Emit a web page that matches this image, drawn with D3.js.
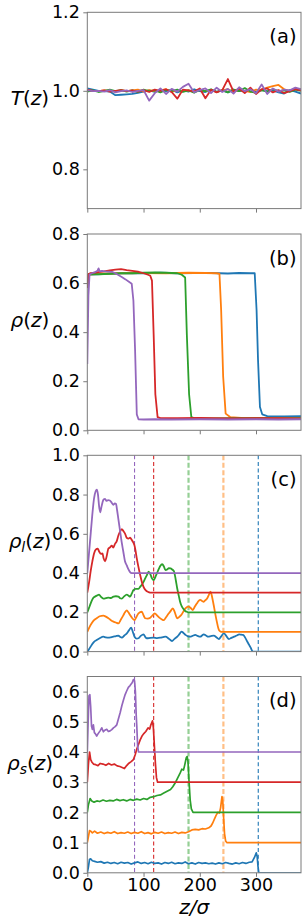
<!DOCTYPE html>
<html><head><meta charset="utf-8">
<script src="https://cdn.jsdelivr.net/npm/d3@7"></script>
<style>body{margin:0;background:#fff}svg{display:block}</style>
</head><body>
<svg id="chart" width="307" height="922"></svg>
<script>
// ---------- data ----------
const colors = ["#1f77b4", "#ff7f0e", "#2ca02c", "#d62728", "#9467bd"]; // blue, orange, green, red, purple
const xTicks = [0, 100, 200, 300];
const interfaces = [304, 242, 180, 118, 84];
const panelLabels = ["(a)", "(b)", "(c)", "(d)"];
const yTicksA = [0.8, 1.0, 1.2];
const yTicksB = [0.0, 0.2, 0.4, 0.6, 0.8];
const yTicksC = [0.0, 0.2, 0.4, 0.6, 0.8, 1.0];
const yTicksD = [0.0, 0.1, 0.2, 0.3, 0.4, 0.5, 0.6];

// (a) temperature profiles
const zT = [0,10,20,30,40,50,60,70,80,90,100,110,120,130,140,150,160,170,180,190,200,210,220,230,240,250,260,270,280,290,300,310,320,330,340,350,360,370,380];
const tBlue   = [1.006,1.003,1.000,0.999,0.998,0.989,0.990,0.991,0.992,0.995,0.998,1.001,0.997,1.002,0.999,1.003,0.996,1.001,0.998,1.004,0.999,0.997,1.002,0.998,1.001,0.996,1.003,0.999,1.000,1.004,0.997,1.002,0.999,1.001,0.996,0.993,1.002,0.998,0.993];
const tOrange = [1.002,1.000,0.999,1.001,1.000,0.998,1.002,0.999,1.001,1.003,0.998,1.002,0.999,1.001,1.004,0.997,1.002,0.999,1.001,0.998,1.003,0.999,1.002,0.997,1.001,1.004,0.998,1.002,1.000,0.997,1.003,1.001,1.008,1.012,1.015,1.004,0.999,1.006,1.002];
const tGreen  = [0.998,1.001,0.997,1.000,1.003,0.999,1.002,0.998,1.001,0.997,1.003,0.999,1.001,0.996,1.002,0.999,1.003,0.997,1.001,0.995,1.002,0.999,1.004,0.997,1.001,0.996,1.003,0.999,1.007,0.998,0.995,1.002,0.998,1.004,0.999,1.001,0.997,1.003,1.000];
const tRed    = [1.003,1.000,0.999,1.001,0.998,1.000,1.002,0.999,1.001,0.998,1.002,0.997,1.003,1.000,1.004,0.997,0.980,1.003,1.001,0.998,1.006,0.981,1.003,0.996,1.002,1.030,0.998,1.006,0.994,1.008,0.992,1.004,1.006,0.996,1.002,0.994,0.999,1.004,1.001];
const tPurple = [1.002,0.999,1.000,0.998,1.002,0.996,0.999,1.001,0.997,1.000,1.002,0.975,0.994,1.006,0.992,1.005,0.998,1.010,1.018,0.996,1.002,1.006,0.994,1.008,0.997,1.005,0.993,1.009,0.999,1.004,0.994,1.016,0.992,1.006,0.998,1.003,1.001,1.008,1.004];

// (b) density profiles [z, rho]
const rhoBlue   = [[0,0.58],[2,0.635],[40,0.638],[70,0.641],[100,0.640],[130,0.642],[160,0.640],[190,0.641],[220,0.641],[250,0.639],[270,0.641],[290,0.640],[297.7,0.640],[301,0.49],[303.6,0.286],[307,0.095],[311,0.065],[320,0.058],[350,0.057],[380,0.058]];
const rhoOrange = [[0,0.58],[2,0.635],[20,0.638],[60,0.640],[100,0.641],[140,0.640],[180,0.642],[210,0.641],[230,0.640],[235,0.638],[238,0.49],[241.6,0.218],[246,0.068],[254,0.054],[280,0.050],[320,0.051],[380,0.050]];
const rhoGreen  = [[0,0.58],[2,0.635],[10,0.637],[20,0.636],[40,0.638],[60,0.640],[80,0.640],[100,0.642],[120,0.643],[140,0.642],[160,0.640],[168,0.634],[174,0.623],[177,0.39],[181,0.147],[185,0.054],[190,0.050],[220,0.049],[260,0.050],[300,0.050],[340,0.049],[380,0.050]];
const rhoRed    = [[0,0.58],[2,0.636],[5,0.640],[10,0.642],[20,0.645],[30,0.648],[40,0.652],[50,0.655],[60,0.657],[70,0.653],[80,0.650],[90,0.647],[100,0.640],[108,0.634],[112,0.630],[115,0.610],[118,0.390],[121,0.147],[125,0.054],[130,0.050],[160,0.050],[200,0.051],[250,0.049],[300,0.050],[340,0.050],[380,0.049]];
const rhoPurple = [[0,0.27],[2,0.55],[4,0.635],[8,0.640],[14,0.645],[18,0.650],[20,0.660],[22,0.648],[26,0.650],[32,0.648],[38,0.647],[44,0.646],[50,0.640],[56,0.632],[62,0.624],[68,0.615],[74,0.605],[79,0.597],[82,0.528],[85,0.324],[88,0.065],[91,0.045],[100,0.044],[120,0.045],[150,0.044],[200,0.045],[250,0.044],[300,0.045],[340,0.044],[380,0.045]];

// (c) rho_l profiles (offset by 0.1 each) [z, value]
const lBlue = [[0,0],[3,0.012],[7.8,0.034],[12,0.05],[16.7,0.059],[22,0.068],[28.6,0.076],[33,0.072],[37.6,0.071],[42,0.073],[46.5,0.076],[51,0.079],[55.4,0.081],[58,0.076],[61.4,0.071],[66,0.082],[70.3,0.093],[74,0.108],[78,0.122],[81,0.1],[84,0.076],[88,0.066],[91,0.068],[95,0.08],[100,0.088],[103,0.075],[106,0.068],[112,0.07],[118,0.071],[124,0.069],[130,0.071],[135,0.074],[139,0.076],[145,0.066],[150.6,0.054],[155,0.065],[160,0.076],[164,0.09],[167.5,0.102],[171,0.095],[174.5,0.085],[179,0.078],[183,0.076],[187,0.08],[192,0.085],[196,0.08],[201,0.076],[204,0.082],[207,0.088],[211,0.082],[215,0.076],[220,0.079],[225,0.081],[230,0.072],[234,0.064],[238,0.078],[243,0.093],[247,0.08],[252,0.064],[256,0.07],[261,0.076],[266,0.082],[270,0.088],[274,0.086],[277,0.085],[281,0.07],[284.6,0.05],[288,0.033],[290.5,0.02],[293,0.005],[294,0],[380,0]];
const lOrange = [[0,0.1],[3,0.12],[7.8,0.144],[12,0.16],[16.7,0.17],[22,0.18],[28.6,0.183],[33,0.178],[37.6,0.17],[42,0.16],[46.5,0.153],[51,0.148],[55.4,0.144],[60,0.165],[64.3,0.186],[67,0.2],[70.3,0.21],[73,0.2],[76,0.186],[80,0.17],[84,0.16],[87,0.175],[91,0.195],[97,0.203],[100,0.185],[103,0.17],[107,0.168],[112,0.173],[116,0.185],[120,0.195],[124,0.185],[128,0.173],[132,0.165],[136,0.16],[140,0.175],[145,0.195],[149,0.21],[152,0.22],[155,0.205],[158,0.18],[160,0.17],[164,0.178],[168,0.19],[171,0.205],[174.5,0.22],[180,0.229],[184,0.222],[187.5,0.212],[191,0.228],[195,0.246],[198,0.258],[201,0.263],[204,0.258],[207,0.254],[210,0.262],[213,0.27],[216,0.288],[219,0.305],[221,0.29],[223,0.263],[225.5,0.225],[228,0.186],[230.5,0.15],[233,0.119],[235,0.106],[237,0.102],[240,0.1],[380,0.1]];
const lGreen = [[0,0.2],[4,0.23],[8,0.26],[11,0.275],[13.7,0.28],[17,0.285],[20.9,0.29],[24,0.28],[28.6,0.27],[33,0.272],[37.6,0.275],[42,0.273],[46.5,0.28],[51,0.282],[55.4,0.28],[58.4,0.272],[61.4,0.27],[65,0.28],[70.3,0.29],[73,0.286],[76,0.28],[79,0.295],[82,0.313],[86,0.32],[91,0.32],[94,0.33],[97,0.34],[100,0.355],[103,0.373],[106,0.39],[109,0.407],[112,0.395],[115,0.373],[118,0.364],[121,0.38],[124,0.4],[127,0.42],[130,0.437],[133,0.445],[136,0.435],[139,0.415],[142,0.418],[145,0.425],[148,0.424],[151,0.418],[154,0.41],[157,0.37],[160,0.32],[163,0.28],[165,0.254],[168,0.23],[171,0.217],[174,0.207],[177,0.203],[180,0.2],[380,0.2]];
const lRed = [[0,0.3],[3,0.35],[6,0.41],[9,0.46],[12,0.5],[15,0.52],[18.5,0.525],[21,0.51],[24.5,0.498],[27,0.5],[29,0.475],[31.6,0.46],[34,0.48],[37.6,0.525],[40,0.53],[43.5,0.54],[46,0.53],[49.5,0.55],[52,0.56],[55.4,0.593],[58,0.61],[61.4,0.624],[64,0.615],[67.3,0.6],[70,0.58],[73.3,0.576],[76,0.58],[79.2,0.568],[82,0.555],[84,0.54],[86,0.51],[88,0.475],[91,0.43],[94,0.39],[97,0.355],[100,0.33],[104,0.312],[109,0.303],[114,0.3],[380,0.3]];
const lPurple = [[0,0.4],[3,0.5],[6,0.6],[9,0.7],[12,0.78],[15,0.818],[17,0.825],[19,0.8],[21,0.74],[23,0.71],[25,0.735],[27,0.76],[29,0.775],[31.6,0.778],[34,0.768],[37,0.772],[40,0.77],[43,0.76],[46,0.748],[49,0.755],[51,0.752],[53,0.72],[55,0.68],[58,0.62],[61,0.56],[64,0.51],[67,0.46],[70,0.44],[73,0.42],[76,0.405],[79,0.4],[380,0.4]];

// (d) rho_s profiles (offset by 0.1 each) [z, value]
const sBlue = [[0,0],[2,0.02],[4,0.045],[6,0.046],[9,0.040],[13,0.038],[18,0.035],[24,0.037],[30,0.032],[36,0.035],[42,0.031],[48,0.034],[54,0.030],[60,0.035],[66,0.032],[72,0.034],[78,0.029],[84,0.033],[90,0.036],[96,0.031],[102,0.034],[108,0.030],[114,0.035],[120,0.031],[126,0.033],[132,0.029],[138,0.034],[144,0.031],[150,0.035],[156,0.030],[162,0.033],[168,0.031],[174,0.036],[180,0.030],[186,0.033],[192,0.029],[198,0.034],[204,0.031],[210,0.033],[216,0.030],[222,0.032],[228,0.029],[234,0.033],[240,0.030],[246,0.034],[252,0.031],[258,0.029],[264,0.033],[270,0.030],[276,0.034],[282,0.031],[288,0.035],[293,0.036],[297,0.05],[300.5,0.066],[302,0.055],[303.6,0.02],[305,0],[380,0]];
const sOrange = [[0,0.1],[2,0.12],[4,0.14],[6,0.138],[9,0.132],[13,0.138],[18,0.131],[24,0.135],[30,0.130],[36,0.134],[42,0.131],[48,0.136],[54,0.130],[60,0.133],[66,0.131],[72,0.135],[78,0.130],[84,0.134],[90,0.131],[96,0.136],[102,0.130],[108,0.133],[114,0.129],[120,0.134],[126,0.131],[132,0.135],[138,0.130],[144,0.133],[150,0.131],[156,0.135],[162,0.130],[168,0.134],[174,0.132],[180,0.136],[186,0.142],[192,0.144],[198,0.142],[204,0.146],[210,0.145],[216,0.149],[220,0.155],[223,0.165],[226,0.178],[229,0.19],[232,0.2],[235,0.198],[237,0.215],[239.5,0.252],[241,0.235],[242.5,0.18],[244,0.13],[246,0.105],[248,0.1],[380,0.1]];
const sGreen = [[0,0.2],[2,0.225],[5,0.246],[8,0.238],[12,0.234],[17,0.238],[22,0.236],[28,0.241],[34,0.237],[40,0.240],[46,0.238],[52,0.243],[58,0.239],[64,0.242],[70,0.238],[76,0.243],[82,0.240],[88,0.244],[94,0.241],[100,0.246],[106,0.243],[112,0.250],[118,0.252],[124,0.256],[130,0.258],[136,0.264],[142,0.270],[148,0.276],[152,0.285],[157,0.30],[161,0.315],[165,0.33],[168,0.343],[171,0.340],[173,0.355],[176,0.381],[177.5,0.385],[179,0.37],[181,0.30],[183,0.24],[185,0.212],[188,0.2],[380,0.2]];
const sRed = [[0,0.3],[2,0.36],[4,0.4],[6,0.375],[8,0.367],[11,0.36],[15,0.358],[19,0.355],[23,0.362],[28,0.36],[33,0.356],[38,0.362],[43,0.357],[48,0.360],[53,0.354],[58,0.352],[63,0.348],[66,0.345],[70,0.355],[74,0.363],[78,0.368],[82,0.375],[85,0.39],[88,0.41],[91,0.425],[94,0.44],[97,0.452],[100,0.46],[104,0.468],[108,0.48],[111,0.476],[113,0.49],[116,0.503],[117.5,0.48],[119,0.43],[121,0.365],[123,0.315],[125,0.3],[380,0.3]];
const sPurple = [[0,0.4],[1.5,0.5],[3,0.586],[4.5,0.59],[6,0.55],[7.5,0.486],[9,0.475],[10.8,0.49],[12.6,0.464],[14.5,0.46],[16.7,0.453],[19,0.46],[22.7,0.47],[25.7,0.48],[28.6,0.467],[31,0.472],[34.6,0.475],[37.5,0.468],[40.5,0.47],[43.5,0.474],[46.5,0.48],[49.5,0.484],[52.4,0.49],[55.4,0.51],[58.4,0.53],[61.4,0.553],[64.3,0.572],[67.3,0.59],[70,0.602],[73,0.614],[76,0.62],[78,0.625],[80,0.63],[82,0.64],[84,0.636],[85.5,0.6],[87,0.52],[88,0.486],[89.5,0.42],[91,0.4],[380,0.4]];

// ---------- layout ----------
const svg = d3.select("#chart");
const left = 87.3, right = 301, panelH = 196.3;
const tops = [12.3, 234, 455.3, 676.5];
const font = "DejaVu Sans, sans-serif";
const frameColor = "#7a7a7a";

const x = d3.scaleLinear().domain([0, 380]).range([left, right]);

const panels = [
  { domain: [0.7, 1.2], ticks: yTicksA, series: [tBlue, tOrange, tGreen, tRed, tPurple].map(a => a.map((v, i) => [zT[i], v])), lw: 1.8, dashed: false, label: ["T", null] },
  { domain: [0, 0.8], ticks: yTicksB, series: [rhoBlue, rhoOrange, rhoGreen, rhoRed, rhoPurple], lw: 1.8, dashed: false, label: ["ρ", null] },
  { domain: [0, 1.0], ticks: yTicksC, series: [lBlue, lOrange, lGreen, lRed, lPurple], lw: 1.8, dashed: true, label: ["ρ", "l"], curve: d3.curveMonotoneX },
  { domain: [0, 0.65], ticks: yTicksD, series: [sBlue, sOrange, sGreen, sRed, sPurple], lw: 1.7, dashed: true, label: ["ρ", "s"] }
];

panels.forEach((p, k) => {
  const top = tops[k], bottom = top + panelH;
  const y = d3.scaleLinear().domain(p.domain).range([bottom, top]);
  const g = svg.append("g");
  const clipId = "clip" + k;
  svg.append("clipPath").attr("id", clipId).append("rect")
    .attr("x", left).attr("y", top).attr("width", right - left).attr("height", panelH);

  const plot = g.append("g").attr("clip-path", `url(#${clipId})`);

  // dashed interface lines
  if (p.dashed) {
    interfaces.forEach((zi, i) => {
      const wide = (i === 1 || i === 2);
      plot.append("line")
        .attr("x1", x(zi)).attr("x2", x(zi)).attr("y1", top).attr("y2", bottom)
        .attr("stroke", colors[i])
        .attr("stroke-width", wide ? 2.2 : 1.1)
        .attr("stroke-opacity", wide ? 0.5 : 1)
        .attr("stroke-dasharray", wide ? "5,2.5" : "4,2.6");
    });
  }

  const line = d3.line().x(d => x(d[0])).y(d => y(d[1])).curve(p.curve || d3.curveLinear);
  p.series.forEach((s, i) => {
    plot.append("path").datum(s)
      .attr("d", line)
      .attr("fill", "none")
      .attr("stroke", colors[i])
      .attr("stroke-width", p.lw)
      .attr("stroke-linejoin", "round");
  });

  // axes
  const yAxis = d3.axisLeft(y).tickValues(p.ticks).tickFormat(d3.format(".1f")).tickSize(4).tickPadding(3.5);
  const ga = g.append("g").attr("transform", `translate(${left},0)`).call(yAxis);
  const xAxis = d3.axisBottom(x).tickValues(xTicks).tickSize(4).tickPadding(1.5)
    .tickFormat(k === 3 ? d3.format("d") : () => "");
  const gx = g.append("g").attr("transform", `translate(0,${bottom})`).call(xAxis);
  [ga, gx].forEach(a => {
    a.select(".domain").remove();
    a.selectAll(".tick line").attr("stroke", frameColor).attr("stroke-width", 1);
    a.selectAll(".tick text").attr("font-family", font).attr("font-size", 17.5).attr("fill", "#000");
  });

  // frame
  g.append("rect").attr("x", left).attr("y", top).attr("width", right - left).attr("height", panelH)
    .attr("fill", "none").attr("stroke", frameColor).attr("stroke-width", 1);

  // panel label
  g.append("text").attr("x", 296.5).attr("y", top + 30.5).attr("text-anchor", "end")
    .attr("font-family", font).attr("font-size", 19.5).attr("fill", "#000").text(panelLabels[k]);

  // y label
  const yl = g.append("text").attr("x", 30).attr("y", top + panelH / 2 - 5).attr("text-anchor", "middle")
    .attr("font-family", font).attr("font-size", 20).attr("fill", "#000");
  yl.append("tspan").attr("font-style", "italic").text(p.label[0]);
  if (p.label[1]) {
    yl.append("tspan").attr("font-style", "italic").attr("font-size", 14).attr("dy", 4).text(p.label[1]);
    yl.append("tspan").attr("dy", -4).text("(");
  } else {
    yl.append("tspan").text("(");
  }
  yl.append("tspan").attr("font-style", "italic").text("z");
  yl.append("tspan").text(")");
});

// x label
const xl = svg.append("text").attr("x", (left + right) / 2).attr("y", 914).attr("text-anchor", "middle")
  .attr("font-family", font).attr("font-size", 20).attr("font-style", "italic").attr("fill", "#000");
xl.text("z/σ");
</script>
</body></html>
